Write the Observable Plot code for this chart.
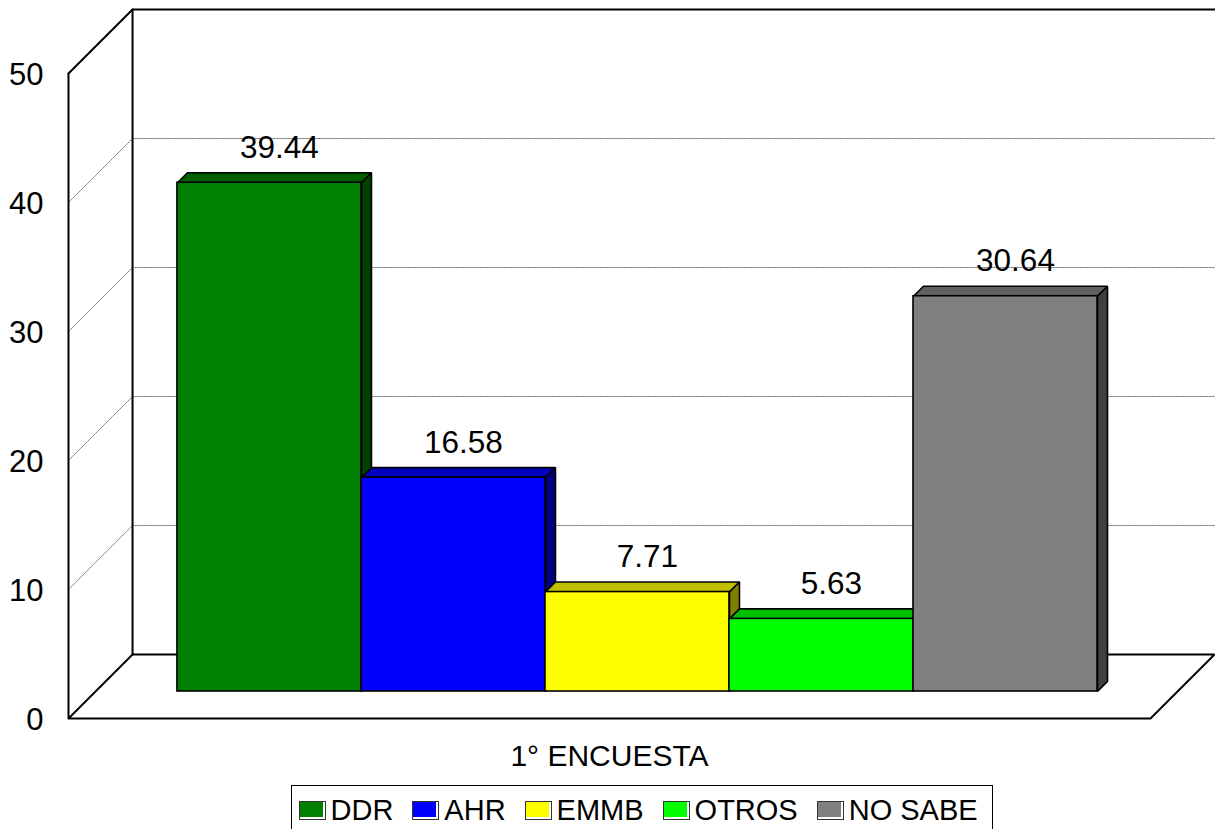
<!DOCTYPE html>
<html>
<head>
<meta charset="utf-8">
<script src="https://cdn.jsdelivr.net/npm/d3@7"></script>
<script src="https://cdn.jsdelivr.net/npm/@observablehq/plot@0.6"></script>
<style>
  html, body { margin: 0; padding: 0; background: #fff; overflow: hidden; }
  svg { display: block; }
  #legend { position: relative; box-sizing: border-box; margin-left: 291px; width: 702px; height: 44px;
    border: 1.5px solid #000; border-bottom: none; display: flex; align-items: center; padding: 5px 0 0 6.5px;
    font: 29px "Liberation Sans", Arial, sans-serif; color: #000; white-space: nowrap; }
  .item { display: flex; align-items: center; margin-right: 19px; flex: none; }
  .sw { box-sizing: border-box; width: 27px; height: 19px; border: 1.5px solid #333; padding: 0 2px 2px 0;
    background-clip: content-box !important; margin-right: 5px; flex: none; }
</style>
</head>
<body>
<div id="chart"></div>
<div id="legend"></div>
<script>
const categories = ["DDR", "AHR", "EMMB", "OTROS", "NO SABE"];
const values = [39.44, 16.58, 7.71, 5.63, 30.64];
const frontColors = ["#008000", "#0000ff", "#ffff00", "#00ff00", "#808080"];
const topColors = ["#006000", "#0000c0", "#c0c000", "#00c000", "#606060"];
const sideColors = ["#004000", "#000080", "#808000", "#008000", "#404040"];
const yTicks = [0, 10, 20, 30, 40, 50];
const gridValues = [10, 20, 30, 40];
const xTitle = "1° ENCUESTA";

// Scale units: one x unit is one bar width, y is the value axis.
const xMax = 5.88;          // front edge of the floor
const wallDX = 0.348, wallDY = 4.96;   // depth of the chart box
const barDX = 0.0543, barDY = 0.775;   // depth of a bar
const barStart = 0.592, barBase = 2.093;  // where the first bar sits on the floor

const wallLine = (pts, o = {}) => Plot.line(pts, {x: "x", y: "y", stroke: "#000", strokeWidth: 2, strokeLinejoin: "miter", ...o});

const box = [
  wallLine([{x: 0, y: 50}, {x: 0, y: 0}, {x: xMax, y: 0}, {x: xMax + wallDX, y: wallDY}, {x: wallDX, y: wallDY}, {x: 0, y: 0}]),
  wallLine([{x: 0, y: 50}, {x: wallDX, y: 50 + wallDY}, {x: xMax + wallDX + 0.01, y: 50 + wallDY}]),
  wallLine([{x: wallDX, y: 50 + wallDY}, {x: wallDX, y: wallDY}])
];

const grid = gridValues.map(v =>
  Plot.line([{x: 0, y: v}, {x: wallDX, y: v + wallDY}, {x: xMax + wallDX + 0.01, y: v + wallDY}],
    {x: "x", y: "y", stroke: "#808080", strokeWidth: 1, strokeDasharray: "2 1", strokeLinejoin: "miter"})
);

const bars = values.flatMap((v, i) => {
  const x1 = barStart + i, x2 = x1 + 1, y0 = barBase, y1 = barBase + v;
  const face = (pts, fill) => Plot.line(pts, {x: "x", y: "y", fill, stroke: "#000", strokeWidth: 1.6,
    strokeLinejoin: "miter", curve: "linear-closed"});
  return [
    face([{x: x1, y: y1}, {x: x2, y: y1}, {x: x2 + barDX, y: y1 + barDY}, {x: x1 + barDX, y: y1 + barDY}], topColors[i]),
    face([{x: x2, y: y0}, {x: x2 + barDX, y: y0 + barDY}, {x: x2 + barDX, y: y1 + barDY}, {x: x2, y: y1}], sideColors[i]),
    Plot.rect([{category: categories[i], value: v}], {x1: () => x1, x2: () => x2, y1: () => y0, y2: () => y1,
      fill: frontColors[i], stroke: "#000", strokeWidth: 1.6})
  ];
});

const labels = Plot.text(values, {
  x: (v, i) => barStart + i + 0.5 + barDX,
  y: v => v + barBase + 2.71,
  text: v => v.toFixed(2),
  fontSize: 31.5, fill: "#000"
});

const title = Plot.text([xTitle], {x: 2.94, y: -2.95, text: d => d, fontSize: 30, fill: "#000"});

const chart = Plot.plot({
  width: 1215,
  height: 785,
  marginLeft: 68,
  marginRight: 65,
  marginTop: 73,
  marginBottom: 67,
  style: {fontFamily: '"Liberation Sans", Arial, sans-serif', background: "#fff", overflow: "visible"},
  x: {domain: [0, xMax], axis: null},
  y: {domain: [0, 50], axis: null},
  marks: [
    ...grid,
    ...box,
    ...bars,
    labels,
    title,
    Plot.axisY({ticks: yTicks, tickSize: 0, tickPadding: 25, fontSize: 31, label: null, dy: 2, fill: "#000"})
  ]
});
document.getElementById("chart").append(chart);

const legend = d3.select("#legend");
categories.forEach((c, i) => {
  const item = legend.append("div").attr("class", "item");
  item.append("div").attr("class", "sw").style("background-color", frontColors[i]);
  item.append("div").text(c);
});
</script>
</body>
</html>
